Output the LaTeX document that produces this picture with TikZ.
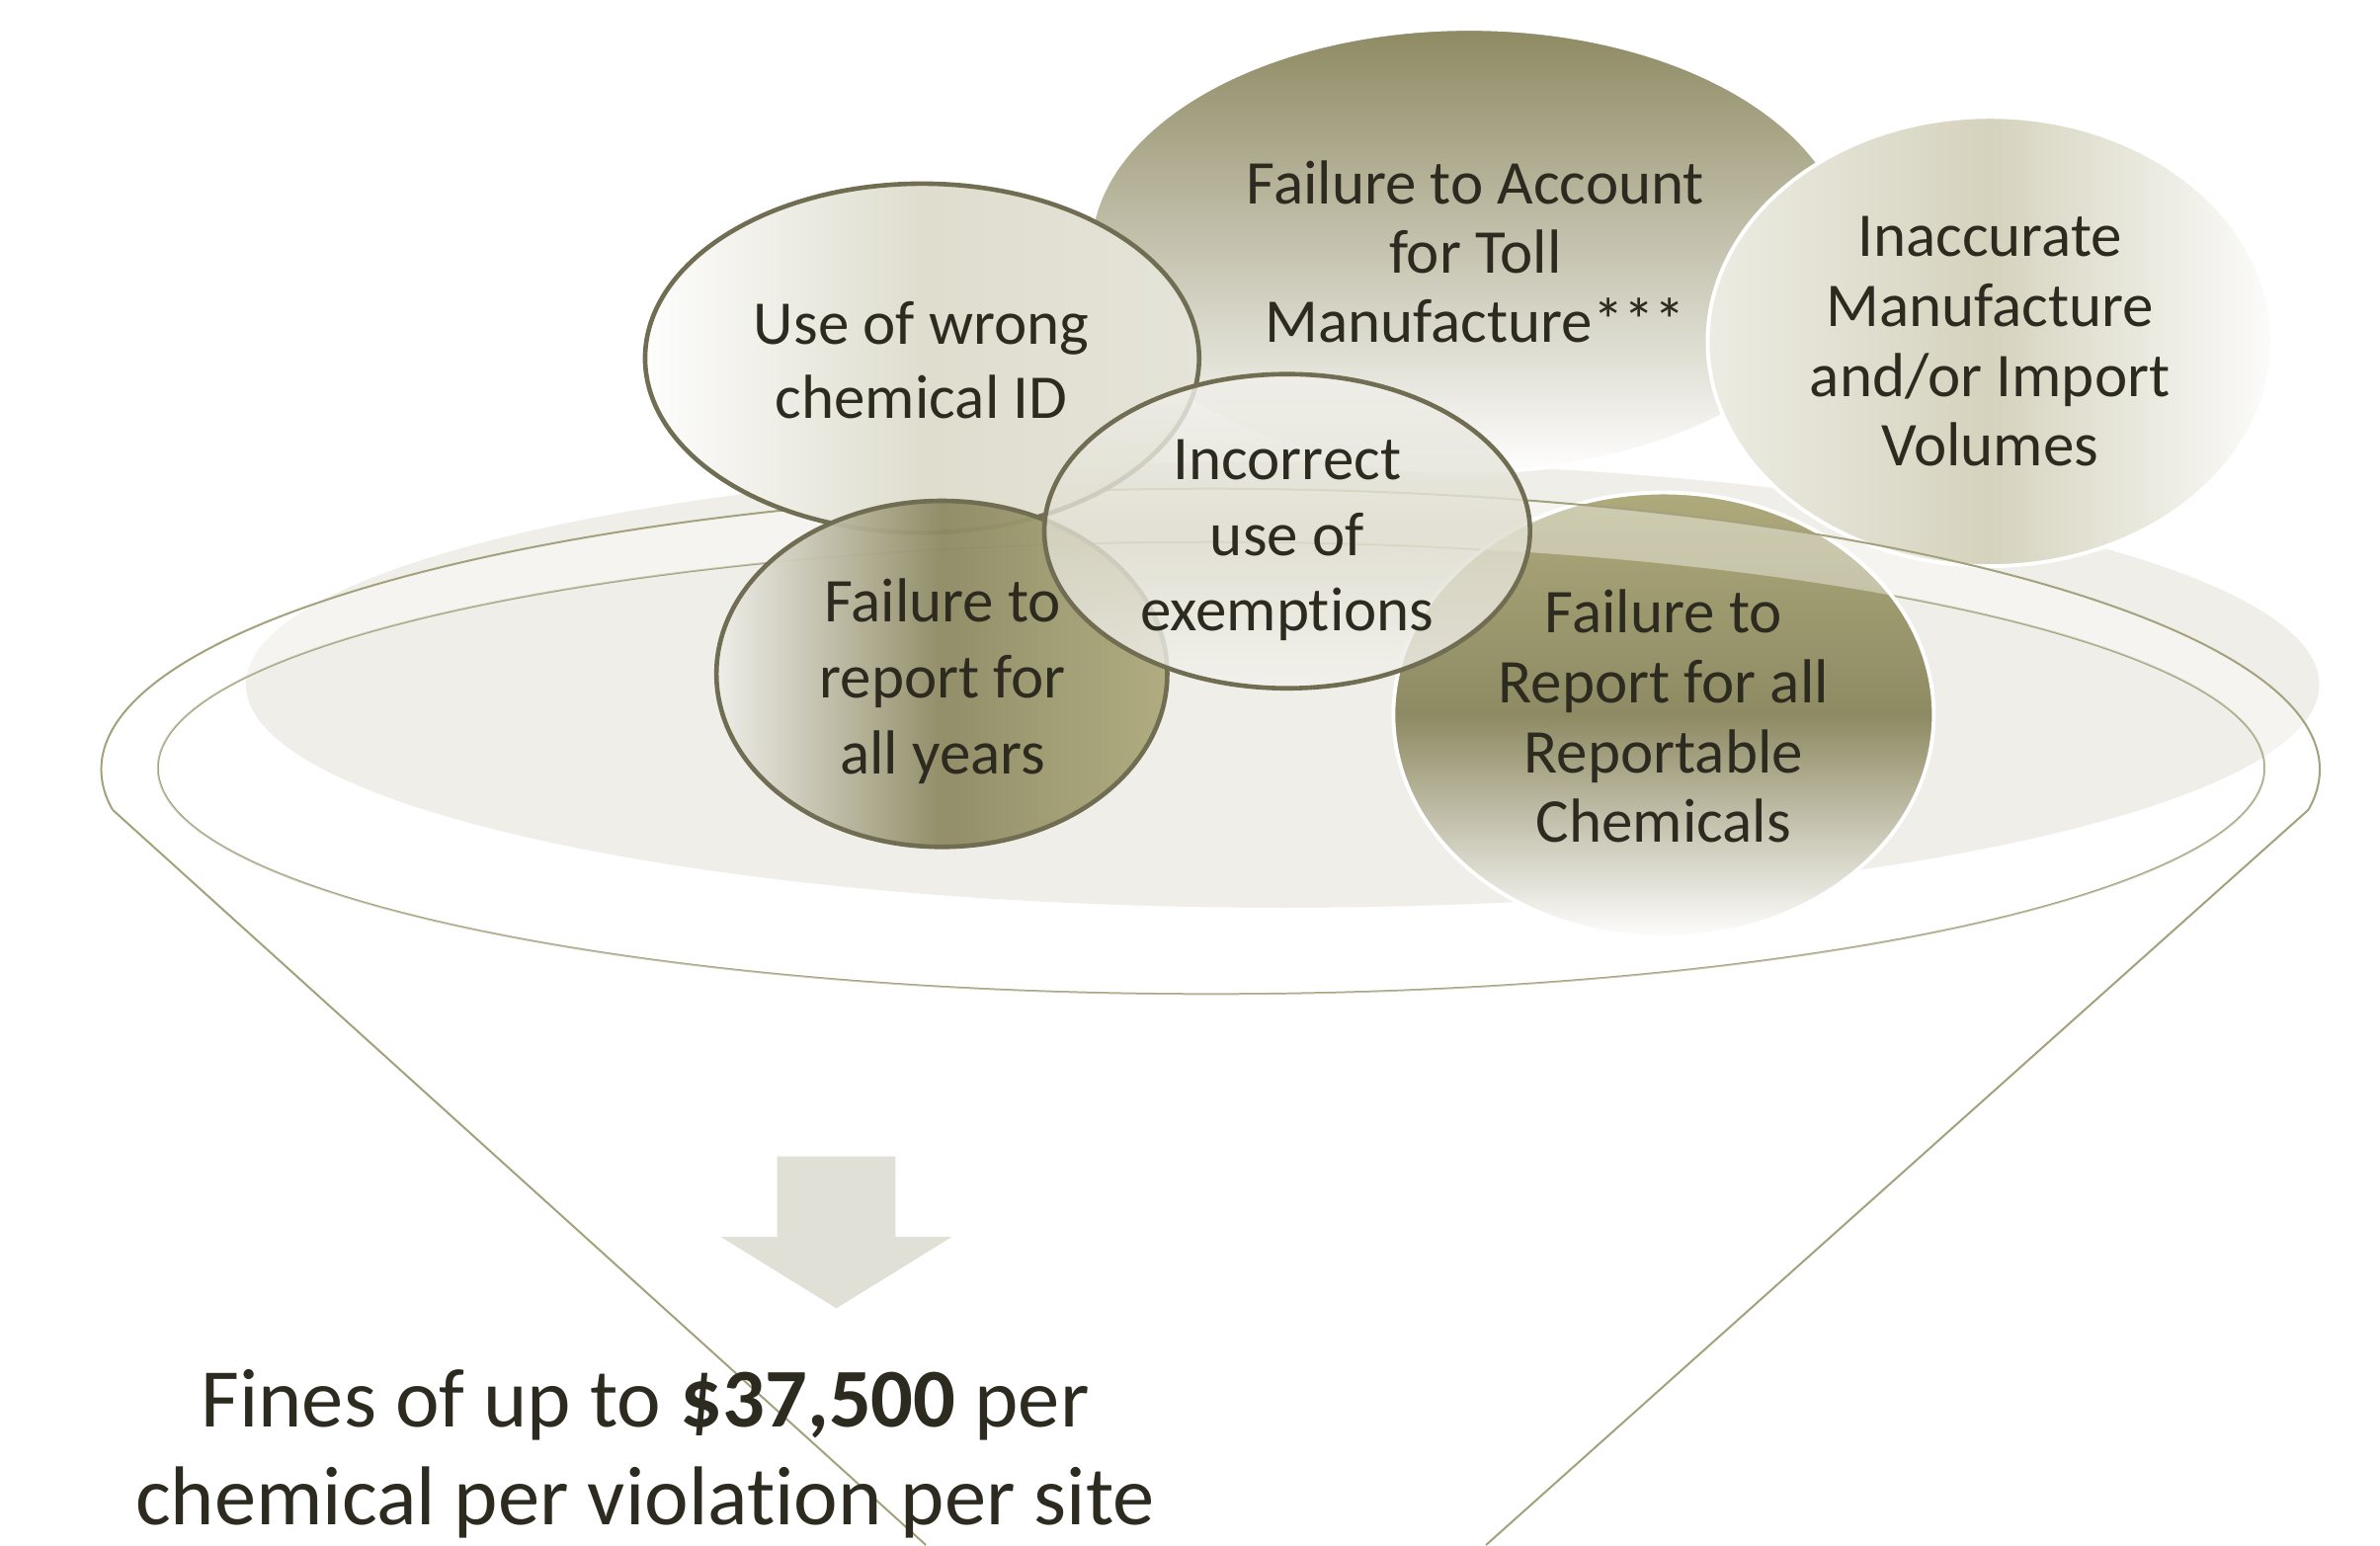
\documentclass[tikz,border=0pt]{standalone}
\usepackage{fontspec}
\setmainfont{Carlito}[Ligatures=NoCommon]
\usetikzlibrary{shapes.geometric}
\definecolor{bg}{HTML}{EFEEE9}
\definecolor{ring}{HTML}{A4A17C}
\definecolor{olive}{HTML}{8E8A63}
\definecolor{olivelt}{HTML}{AEAA7C}
\definecolor{txt}{HTML}{2D2A20}
\definecolor{bord}{HTML}{706D53}
\definecolor{arrowc}{HTML}{E0E0D7}
\definecolor{inaL}{HTML}{EDECE3}
\begin{document}
\begin{tikzpicture}[x=1pt,y=-1pt,
  bub/.style={ellipse, inner sep=0pt, draw=white, line width=2.5pt},
  dbub/.style={ellipse, inner sep=0pt, draw=bord, line width=3pt},
  ringline/.style={draw=ring, line width=1.3pt},
  lbl/.style={text=txt, align=center, inner sep=0pt, font=\fontsize{41}{46}\selectfont}]

\useasboundingbox (0,0) rectangle (1568,1018);
\fill[white] (0,0) rectangle (1568,1018);

% background disc
\fill[bg] (845,451) ellipse [x radius=683, y radius=147];

% inner rim of the funnel
\draw[ringline] (798,506) ellipse [x radius=694, y radius=149];

% white-bordered bubbles
\node[bub, minimum width=500pt, minimum height=292pt,
  top color=olive, bottom color=white!92!bg] (acc) at (968,165) {};
\node[bub, minimum width=356pt, minimum height=293pt,
  top color=olivelt, bottom color=white!90!bg, middle color=olive] (rep) at (1096,471) {};
\node[bub, minimum width=372pt, minimum height=296pt,
  left color=inaL, right color=white!80!bg, middle color=bg!60!olivelt] (ina) at (1311,225) {};

% light band of the rim
\fill[white, fill opacity=0.4, even odd rule]
  (797.5,507) ellipse [x radius=730.8, y radius=185]
  (798,506) ellipse [x radius=694, y radius=149];

% outer contour of the funnel
\coordinate (cl) at (74.35,533.7);
\coordinate (cr) at (1520.65,533.7);
\coordinate (lb) at (610,1018);
\coordinate (rb) at (979,1018);
\begin{scope}
  \clip (0,0) rectangle (1568,533.7);
  \draw[ringline] (797.5,507) ellipse [x radius=730.8, y radius=185];
\end{scope}
\draw[ringline] (cl) -- (lb) (cr) -- (rb);

% dark-bordered bubbles
\node[dbub, minimum width=365pt, minimum height=230pt,
  left color=white!90!bg, right color=bg!85!olivelt, middle color=bg!75!olivelt] (wid) at (607.5,236) {};
\node[dbub, minimum width=297pt, minimum height=228pt, fill opacity=0.95,
  left color=bg, right color=olivelt, middle color=olive] (yrs) at (620.5,444) {};
\node[dbub, minimum width=320pt, minimum height=207pt, fill opacity=0.82,
  top color=bg!90!white, bottom color=bg!80!white, middle color=bg!75!olivelt] (exm) at (848,350) {};

% labels
\node[lbl, font=\fontsize{41}{45.5}\selectfont] (tacc) at (972,166) {Failure to Account\\for Toll\\Manufacture***};
\node[lbl, font=\fontsize{41}{46}\selectfont] (tina) at (1311,225) {Inaccurate\\Manufacture\\and/or Import\\Volumes};
\node[lbl, font=\fontsize{41}{49}\selectfont] (twid) at (607,237.5) {Use of wrong\\chemical ID};
\node[lbl, font=\fontsize{41}{50}\selectfont] (texm) at (848,356) {Incorrect\\use of\\exemptions};
\node[lbl, font=\fontsize{41}{50}\selectfont] (tyrs) at (621,449) {Failure to\\report for\\all years};
\node[lbl, font=\fontsize{41}{46}\selectfont] (trep) at (1096,472) {Failure to\\Report for all\\Reportable\\Chemicals};

% down arrow
\fill[arrowc] (512,762) -- (590,762) -- (590,815) -- (627,815) -- (551,862)
  -- (475,815) -- (512,815) -- cycle;

% result text
\node[lbl, font=\fontsize{55}{64}\selectfont] (fine) at (425,958)
  {Fines of up to \textbf{\$37,500} per\\chemical per violation per site};
\end{tikzpicture}
\end{document}
